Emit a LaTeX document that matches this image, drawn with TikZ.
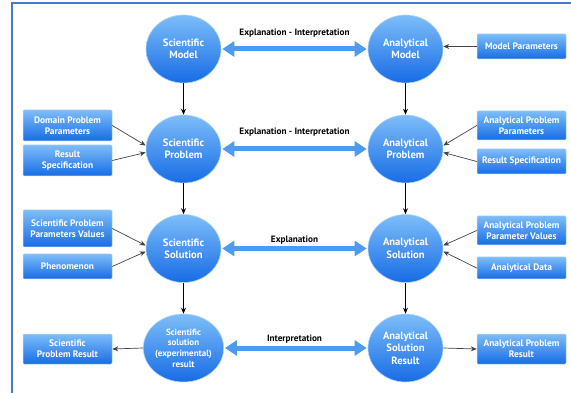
\documentclass[tikz,border=0pt]{standalone}
\usepackage{fontspec}
\setmainfont{PT Sans}
\usetikzlibrary{shapes.geometric,arrows.meta,calc}
\definecolor{frameblue}{HTML}{4A78C8}
\definecolor{ctop}{HTML}{7DBDF8}
\definecolor{cbot}{HTML}{176CE6}
\definecolor{cborder}{HTML}{B5D6F5}
\definecolor{arrowblue}{HTML}{4C9BF0}
\definecolor{conn}{HTML}{404448}
\tikzset{
  bubble/.style={ellipse, minimum width=75pt, minimum height=68pt, inner sep=0pt,
    top color=ctop, bottom color=cbot, draw=cborder, line width=0.6pt,
    text=white, font=\bfseries\fontsize{10.6}{12.4}\selectfont, align=center},
  smallbubble/.style={bubble, font=\bfseries\fontsize{9}{10.6}\selectfont},
  infobox/.style={rectangle, rounded corners=1pt, minimum width=89pt, inner sep=0pt,
    top color=ctop, bottom color=cbot, draw=cborder, line width=0.5pt,
    text=white, font=\bfseries\fontsize{9.4}{11}\selectfont, align=center},
  bigarrow/.style={line width=5pt, arrowblue,
    {Triangle[width=15pt,length=12pt]}-{Triangle[width=15pt,length=12pt]}, shorten <=1pt, shorten >=1pt},
  flowarrow/.style={line width=0.9pt, black, -{Stealth[length=6pt,width=5pt]}},
  feedarrow/.style={line width=0.7pt, conn, -{Stealth[length=6pt,width=5pt]}},
  arrowlabel/.style={font=\bfseries\fontsize{9.2}{11}\selectfont, text=black, inner sep=0pt}
}
\begin{document}
\begin{tikzpicture}[x=1pt,y=-1pt]
\useasboundingbox (0,0) rectangle (571,393);
\draw[frameblue, line width=2pt] (12,394) -- (12,3) -- (572,3);

% circles
\node[bubble] (sm) at (183.5,49) {Scientific\\Model};
\node[bubble] (sp) at (183.5,149) {Scientific\\Problem};
\node[bubble] (ss) at (183.5,248.5) {Scientific\\Solution};
\node[smallbubble] (sr) at (183.5,348) {Scientific\\solution\\(experimental)\\result};
\node[bubble] (am) at (405.5,49) {Analytical\\Model};
\node[bubble] (ap) at (405.5,149) {Analytical\\Problem};
\node[bubble] (as) at (405.5,248.5) {Analytical\\Solution};
\node[bubble] (ar) at (405.5,348) {Analytical\\Solution\\Result};

% vertical flow
\draw[flowarrow] (sm) -- (sp);
\draw[flowarrow] (sp) -- (ss);
\draw[flowarrow] (ss) -- (sr);
\draw[flowarrow] (am) -- (ap);
\draw[flowarrow] (ap) -- (as);
\draw[flowarrow] (as) -- (ar);

% horizontal double arrows
\draw[bigarrow] (sm.east) -- (am.west);
\draw[bigarrow] (sp.east) -- (ap.west);
\draw[bigarrow] (ss.east) -- (as.west);
\draw[bigarrow] (sr.east) -- (ar.west);
\node[arrowlabel] (l1) at (294.5,33) {Explanation - Interpretation};
\node[arrowlabel] (l2) at (294.5,132) {Explanation - Interpretation};
\node[arrowlabel] (l3) at (294.5,240) {Explanation};
\node[arrowlabel] (l4) at (294.5,339) {Interpretation};

% left boxes
\node[infobox, minimum height=31pt] (dpp) at (67.5,125.5) {Domain Problem\\Parameters};
\node[infobox, minimum height=31pt] (rs1) at (67.5,160.5) {Result\\Specification};
\node[infobox, minimum height=37pt] (sppv) at (67.5,228.5) {Scientific Problem\\Parameters Values};
\node[infobox, minimum height=25pt] (phen) at (67.5,266.5) {Phenomenon};
\node[infobox, minimum height=30pt] (spr) at (67.5,349) {Scientific\\Problem Result};

% right boxes
\node[infobox, minimum height=25pt] (mp) at (521.5,46.5) {Model Parameters};
\node[infobox, minimum height=29pt] (app) at (521.5,125.5) {Analytical Problem\\Parameters};
\node[infobox, minimum height=25pt] (rs2) at (521.5,161.5) {Result Specification};
\node[infobox, minimum height=29pt] (apv) at (521.5,230.5) {Analytical Problem\\Parameter Values};
\node[infobox, minimum height=22pt] (ad) at (521.5,268) {Analytical Data};
\node[infobox, minimum height=30pt] (apr) at (521.5,349) {Analytical Problem\\Result};

% feeding arrows
\draw[feedarrow] (dpp.east) -- ($(sp.west)+(0,-3.5)$);
\draw[feedarrow] (rs1.east) -- ($(sp.west)+(0,3.5)$);
\draw[feedarrow] (sppv.east) -- ($(ss.west)+(0,-3)$);
\draw[feedarrow] (phen.east) -- ($(ss.west)+(0,3)$);
\draw[feedarrow] (sr.west) -- (spr.east);
\draw[feedarrow] (mp.west) -- (mp.west -| am.east);
\draw[feedarrow] (app.west) -- ($(ap.east)+(0,-3.5)$);
\draw[feedarrow] (rs2.west) -- ($(ap.east)+(0,3.5)$);
\draw[feedarrow] (apv.west) -- ($(as.east)+(0,-3)$);
\draw[feedarrow] (ad.west) -- ($(as.east)+(0,3)$);
\draw[feedarrow] (ar.east) -- (apr.west);
\end{tikzpicture}
\end{document}
